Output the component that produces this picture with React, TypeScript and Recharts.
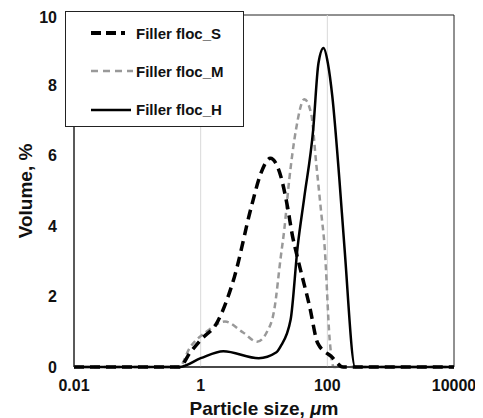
import React from 'react';
import { LineChart, Line, XAxis, YAxis, ReferenceLine, ReferenceArea } from 'recharts';

// Particle size (µm) and volume (%) for each series
const sizeS = [0.01, 0.461, 0.676, 1.0, 1.85, 3.41, 6.31, 8.91, 12.6, 18.4, 23.4, 28.2, 33.9, 52.5, 70.8, 117, 178, 10000];
const volS = [0, 0, 0.4, 0.77, 1.29, 2.56, 4.55, 5.5, 5.93, 5.42, 4.57, 3.72, 3.1, 1.72, 0.67, 0.29, 0, 0];

const sizeM = [0.01, 0.457, 0.676, 1.23, 2.42, 4.68, 7.76, 11, 14.5, 18.4, 20.9, 25, 31.9, 43.4, 55.5, 66.7, 80.2, 90.6, 109, 126, 10000];
const volM = [0, 0, 0.55, 1.0, 1.29, 0.98, 0.72, 0.98, 1.62, 3.13, 3.9, 5.31, 6.73, 7.61, 7.2, 5.79, 4.37, 3.42, 0.77, 0, 0];

const sizeH = [0.01, 0.461, 1.0, 2.28, 8.26, 15.5, 18.2, 26.3, 34.0, 43.4, 59.7, 72.4, 87.1, 102, 120, 155, 186, 275, 10000];
const volH = [0, 0, 0.25, 0.45, 0.25, 0.41, 0.58, 1.34, 3.42, 4.84, 6.73, 8.63, 9.06, 8.63, 7.68, 5.33, 3.42, 0, 0];

const xTicks = [0.01, 1, 100, 10000];
const yTicks = [0, 2, 4, 6, 8, 10];
const gridX = [1, 100];

const seriesNames = ['Filler floc_S', 'Filler floc_M', 'Filler floc_H'];

const build = (xs: number[], ys: number[]) => xs.map((x, i) => ({ x, y: ys[i] }));
const dataS = build(sizeS, volS);
const dataM = build(sizeM, volM);
const dataH = build(sizeH, volH);

const FONT = '"Liberation Sans", Arial, sans-serif';

const LegendBox = () => (
  <div
    style={{
      width: 179,
      height: 116,
      border: '1px solid #222',
      background: '#fff',
      boxSizing: 'border-box',
      fontFamily: FONT,
      fontWeight: 'bold',
      fontSize: 15,
      color: '#111',
      position: 'relative',
    }}
  >
    {[0, 1, 2].map((i) => (
      <div key={i} style={{ position: 'absolute', left: 25, top: 21 + i * 38.3 - 10, height: 20, display: 'flex', alignItems: 'center' }}>
        <svg width={42} height={8} style={{ display: 'block' }}>
          {i === 0 && (
            <line x1={0} y1={4} x2={42} y2={4} stroke="#000" strokeWidth={4} strokeDasharray="10 5 10 5 4 8" />
          )}
          {i === 1 && <line x1={0} y1={4} x2={42} y2={4} stroke="#999" strokeWidth={2.5} strokeDasharray="7 5" />}
          {i === 2 && <line x1={0} y1={4} x2={40} y2={4} stroke="#000" strokeWidth={2.5} />}
        </svg>
        <span style={{ marginLeft: 3 }}>{seriesNames[i]}</span>
      </div>
    ))}
  </div>
);

export default function App() {
  return (
    <div style={{ position: 'relative', width: 475, height: 410 }}>
      <LineChart width={475} height={410} margin={{ top: 7, right: 29, left: 16, bottom: 0 }}>
        <XAxis
          dataKey="x"
          type="number"
          scale="log"
          domain={[0.01, 10000]}
          allowDataOverflow
          ticks={xTicks}
          tickFormatter={(v: number) => String(v)}
          height={51}
          tickSize={0}
          tickMargin={13}
          axisLine={{ stroke: '#000', strokeWidth: 1.2 }}
          tick={{ fill: '#111', fontFamily: FONT, fontWeight: 'bold', fontSize: 16 }}
          label={{
            content: (p: any) => {
              const vb = p.viewBox || {};
              return (
                <text
                  x={vb.x + vb.width / 2}
                  y={vb.y + 41}
                  textAnchor="middle"
                  dominantBaseline="central"
                  fontFamily={FONT}
                  fontWeight="bold"
                  fontSize={19}
                  fill="#111"
                >
                  Particle size, <tspan fontStyle="italic">μ</tspan>m
                </text>
              );
            },
          }}
        />
        <YAxis
          type="number"
          domain={[0, 10]}
          ticks={yTicks}
          width={50}
          tickSize={0}
          tickMargin={17}
          axisLine={{ stroke: '#222' }}
          tick={{ fill: '#111', fontFamily: FONT, fontWeight: 'bold', fontSize: 16 }}
          label={{
            content: (p: any) => {
              const vb = p.viewBox || {};
              const cx = vb.x + 1;
              const cy = vb.y + vb.height / 2;
              return (
                <text
                  x={cx}
                  y={cy}
                  transform={`rotate(-90 ${cx} ${cy})`}
                  textAnchor="middle"
                  dominantBaseline="central"
                  fontFamily={FONT}
                  fontWeight="bold"
                  fontSize={19}
                  fill="#111"
                >
                  Volume, %
                </text>
              );
            },
          }}
        />
        {gridX.map((g) => (
          <ReferenceLine key={g} x={g} stroke="#d9d9d9" strokeWidth={1} />
        ))}
        <ReferenceArea x1={0.01} x2={10000} y1={0} y2={10} fill="none" stroke="#222" strokeWidth={1} fillOpacity={0} />
        <Line data={dataM} dataKey="y" type="monotone" stroke="#999" strokeWidth={2.5} strokeDasharray="6 4" dot={false} activeDot={false} isAnimationActive={false} />
        <Line data={dataS} dataKey="y" type="monotone" stroke="#000" strokeWidth={3.5} strokeDasharray="10 6" dot={false} activeDot={false} isAnimationActive={false} />
        <Line data={dataH} dataKey="y" type="monotone" stroke="#000" strokeWidth={2.5} dot={false} activeDot={false} isAnimationActive={false} />
      </LineChart>
      <div style={{ position: 'absolute', left: 57, top: 3 }}>
        <LegendBox />
      </div>
    </div>
  );
}
